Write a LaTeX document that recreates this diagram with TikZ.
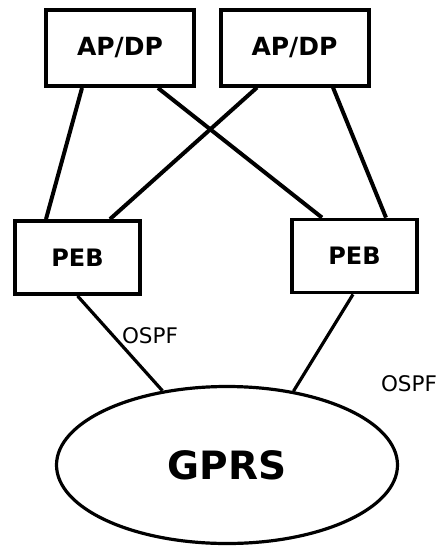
\documentclass[tikz,border=0pt]{standalone}
\usepackage{fontspec}
\setmainfont{DejaVu Sans}
\usetikzlibrary{shapes.geometric}
\begin{document}
\begin{tikzpicture}[
  x=1pt,y=1pt,
  link/.style={draw=black,line width=4pt},
  olink/.style={draw=black,line width=3.2pt},
  apbox/.style={draw=black,line width=4pt,fill=white,minimum width=148pt,minimum height=76pt,
                inner sep=0pt,font=\fontsize{25}{30}\selectfont\bfseries},
  pebbox/.style={draw=black,line width=3.8pt,fill=white,minimum width=125pt,minimum height=73pt,
                 inner sep=0pt,font=\fontsize{24}{29}\selectfont\bfseries},
  cloud/.style={ellipse,draw=black,line width=3.2pt,minimum width=341pt,minimum height=157pt,
                inner sep=0pt,font=\fontsize{39}{46}\selectfont\bfseries},
  proto/.style={inner sep=0pt,font=\fontsize{21.5}{26}\selectfont}
]
\useasboundingbox (0,0) rectangle (437,-546);
% ---------- access / distribution
\node[apbox] (apl) at (120,-48) {AP/DP};
\node[apbox] (apr) at (294.5,-47.5) {AP/DP};
% ---------- edge routers
\node[pebbox] (pebl) at (77.5,-257.5) {PEB};
\node[pebbox] (pebr) at (354.5,-256) {PEB};
% ---------- backbone
\node[cloud] (gprs) at (227,-465) {GPRS};
% ---------- links
\draw[link] ([xshift=-38pt]apl.south) -- ([xshift=-31.5pt]pebl.north);
\draw[link] ([xshift=38pt]apl.south) -- ([xshift=-32.5pt]pebr.north);
\draw[link] ([xshift=-37.5pt]apr.south) -- ([xshift=32.5pt]pebl.north);
\draw[link] ([xshift=38.5pt]apr.south) -- ([xshift=31.5pt]pebr.north);
\draw[olink] (pebl.south) -- (gprs.131);
\draw[olink] ([xshift=-1.5pt]pebr.south) -- (gprs.48);
\node[proto] (ospfl) at (150,-336) {OSPF};
\node[proto] (ospfr) at (409,-384) {OSPF};
\end{tikzpicture}
\end{document}
